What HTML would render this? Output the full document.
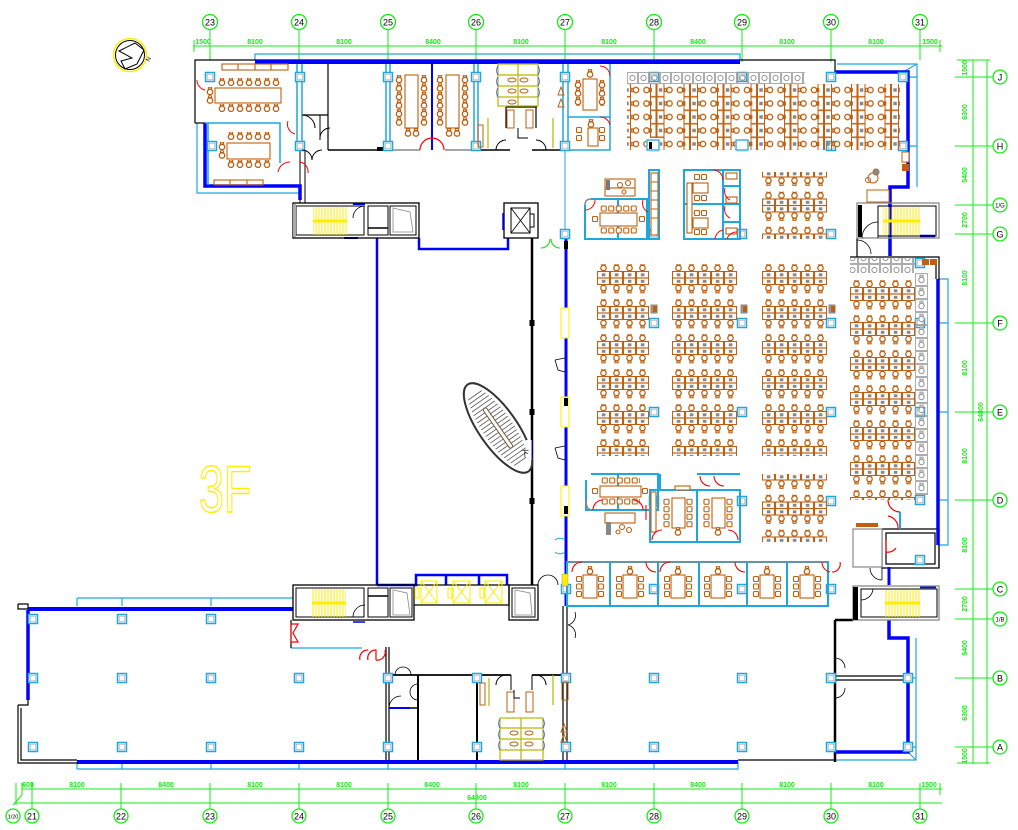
<!DOCTYPE html>
<html><head><meta charset="utf-8">
<style>
html,body{margin:0;padding:0;background:#fff;width:1018px;height:830px;overflow:hidden}
svg{display:block}
</style></head><body>
<svg xmlns="http://www.w3.org/2000/svg" width="1018" height="830" viewBox="0 0 1018 830" font-family="Liberation Sans, sans-serif">
<defs>
<g id="c"><rect x="-1.6" y="-4.3" width="3.2" height="1.8" fill="#fff" stroke="#bf5f0f" stroke-width="1.1"/><circle r="2.7" cy="0.5" fill="#fff" stroke="#bf5f0f" stroke-width="1.3"/></g>
<g id="cg"><rect x="-1.6" y="-4.3" width="3.2" height="1.8" fill="#fff" stroke="#999" stroke-width="1"/><circle r="2.7" cy="0.5" fill="#fff" stroke="#999" stroke-width="1.1"/></g>
<g id="sq"><rect x="-2.5" y="-2.5" width="5" height="5" rx="1" fill="#fff" stroke="#bf5f0f" stroke-width="1.1"/></g>
<g id="col"><rect x="-4.5" y="-4.5" width="9" height="9" fill="#fff" stroke="#1ea7df" stroke-width="1.5"/><rect x="-2.8" y="-2.8" width="5.6" height="5.6" fill="none" stroke="#aaa" stroke-width="0.7"/></g>
<pattern id="cl" width="13" height="35" patternUnits="userSpaceOnUse">
 <use href="#c" x="6.5" y="3.5"/>
 <rect x="0.5" y="7.5" width="12" height="6.5" fill="none" stroke="#bf5f0f" stroke-width="1.1"/>
 <rect x="0.5" y="14" width="12" height="6.5" fill="none" stroke="#bf5f0f" stroke-width="1.1"/>
 <rect x="4.8" y="9.3" width="3.6" height="3" fill="#888"/>
 <rect x="4.8" y="15.8" width="3.6" height="3" fill="#888"/>
 <use href="#c" transform="translate(6.5,24.5) rotate(180)"/>
</pattern>
<pattern id="tp" x="656.5" y="83.25" width="33.5" height="13.5" patternUnits="userSpaceOnUse">
 <rect x="0.5" y="0.25" width="7" height="13" fill="none" stroke="#bf5f0f" stroke-width="1"/>
 <rect x="2.3" y="5" width="3.5" height="3.5" fill="#888"/>
 <use href="#c" transform="translate(12.5,6.75) rotate(-90)"/>
 <use href="#c" transform="translate(24,6.75) rotate(90)"/>
 <rect x="27.5" y="0.25" width="5.5" height="13" fill="none" stroke="#bf5f0f" stroke-width="1"/>
</pattern>
<pattern id="gr" x="627" y="72" width="11" height="12" patternUnits="userSpaceOnUse">
 <rect x="0.5" y="0.5" width="10" height="11" fill="none" stroke="#999" stroke-width="0.8"/>
 <circle cx="5.5" cy="6" r="2.6" fill="none" stroke="#999" stroke-width="1"/>
</pattern>
<pattern id="gv" width="13" height="13" patternUnits="userSpaceOnUse">
 <rect x="0.5" y="0.5" width="12" height="12" fill="none" stroke="#999" stroke-width="0.8"/>
 <use href="#cg" x="6.5" y="6.5"/>
</pattern>
<pattern id="pch" width="9" height="8" patternUnits="userSpaceOnUse"><use href="#c" x="4.5" y="4.3"/></pattern>
<pattern id="pcv" width="8" height="8.5" patternUnits="userSpaceOnUse"><use href="#c" x="4" y="4.5"/></pattern>
<pattern id="psv" width="7" height="7.5" patternUnits="userSpaceOnUse"><use href="#sq" x="3.5" y="3.75"/></pattern>
<pattern id="psh" width="7.5" height="7" patternUnits="userSpaceOnUse"><use href="#sq" x="3.75" y="3.5"/></pattern>
<pattern id="st" width="3" height="40" patternUnits="userSpaceOnUse"><line x1="1" y1="0" x2="1" y2="40" stroke="#ffee00" stroke-width="1"/></pattern>
<g id="mr">
 <rect x="-7" y="0" width="14" height="23" fill="#fff" stroke="#bf5f0f" stroke-width="1.1"/>
 <use href="#c" x="0" y="-4"/>
 <use href="#sq" x="-11" y="4"/><use href="#sq" x="-11" y="11.5"/><use href="#sq" x="-11" y="19"/>
 <use href="#sq" x="11" y="4"/><use href="#sq" x="11" y="11.5"/><use href="#sq" x="11" y="19"/>
</g>
</defs>

<!-- ================= AXES ================= -->
<g stroke="#11ee11" stroke-width="1" fill="none">
 <path d="M193,46H942 M194,40V52 M940,40V52"/>
 <path d="M210,29V60 M299,29V62 M388,29V62 M476,29V62 M565,29V62 M654,29V62 M742,29V62 M831,29V62 M920,29V60"/>
 <path d="M957,60H990 M973,60V764 M987,60V764 M957,763H990"/>
 <path d="M955,77H993 M955,146H993 M955,205H993 M955,234H993 M955,323H993 M955,412H993 M955,500H993 M955,589H993 M955,619H993 M955,678H993 M955,747H993"/>
 <path d="M22,789H942 M16,803H942 M16,783V805 M22,783V795 M22,795L13,805"/>
 <path d="M32,783V809 M121,783V809 M210,783V809 M299,783V809 M388,783V809 M476,783V809 M565,783V809 M654,783V809 M742,783V809 M831,783V809 M920,783V809 M940,783V795"/>
 <g stroke-width="1.3">
 <circle cx="210" cy="22" r="7.5"/><circle cx="299" cy="22" r="7.5"/><circle cx="388" cy="22" r="7.5"/><circle cx="476" cy="22" r="7.5"/><circle cx="565" cy="22" r="7.5"/><circle cx="654" cy="22" r="7.5"/><circle cx="742" cy="22" r="7.5"/><circle cx="831" cy="22" r="7.5"/><circle cx="920" cy="22" r="7.5"/>
 <circle cx="1000" cy="77" r="7"/><circle cx="1000" cy="146" r="7"/><circle cx="1000" cy="205" r="7"/><circle cx="1000" cy="234" r="7"/><circle cx="1000" cy="323" r="7"/><circle cx="1000" cy="412" r="7"/><circle cx="1000" cy="500" r="7"/><circle cx="1000" cy="589" r="7"/><circle cx="1000" cy="619" r="7"/><circle cx="1000" cy="678" r="7"/><circle cx="1000" cy="747" r="7"/>
 <circle cx="13" cy="816" r="7"/><circle cx="32" cy="816" r="7"/><circle cx="121" cy="816" r="7"/><circle cx="210" cy="816" r="7"/><circle cx="299" cy="816" r="7"/><circle cx="388" cy="816" r="7"/><circle cx="476" cy="816" r="7"/><circle cx="565" cy="816" r="7"/><circle cx="654" cy="816" r="7"/><circle cx="742" cy="816" r="7"/><circle cx="831" cy="816" r="7"/><circle cx="920" cy="816" r="7"/>
 </g>
</g>
<g font-size="9" fill="#000" text-anchor="middle">
 <text x="210" y="25.5">23</text><text x="299" y="25.5">24</text><text x="388" y="25.5">25</text><text x="476" y="25.5">26</text><text x="565" y="25.5">27</text><text x="654" y="25.5">28</text><text x="742" y="25.5">29</text><text x="831" y="25.5">30</text><text x="920" y="25.5">31</text>
 <text x="32" y="819.5">21</text><text x="121" y="819.5">22</text><text x="210" y="819.5">23</text><text x="299" y="819.5">24</text><text x="388" y="819.5">25</text><text x="476" y="819.5">26</text><text x="565" y="819.5">27</text><text x="654" y="819.5">28</text><text x="742" y="819.5">29</text><text x="831" y="819.5">30</text><text x="920" y="819.5">31</text>
 <text x="1000" y="80.5">J</text><text x="1000" y="149.5">H</text><text x="1000" y="237.5">G</text><text x="1000" y="326.5">F</text><text x="1000" y="415.5">E</text><text x="1000" y="503.5">D</text><text x="1000" y="592.5">C</text><text x="1000" y="681.5">B</text><text x="1000" y="750.5">A</text>
 <text x="1000" y="207.5" font-size="6">1/G</text><text x="1000" y="621.5" font-size="6">1/B</text><text x="13" y="818.5" font-size="5.5">1/20</text>
</g>
<g font-size="7" font-weight="bold" fill="#11ee11" text-anchor="middle">
 <text x="203" y="44">1500</text><text x="255" y="44">8100</text><text x="344" y="44">8100</text><text x="433" y="44">8400</text><text x="521" y="44">8100</text><text x="609" y="44">8100</text><text x="698" y="44">8400</text><text x="787" y="44">8100</text><text x="876" y="44">8100</text><text x="930" y="44">1500</text>
 <text x="28" y="787">600</text><text x="77" y="787">8100</text><text x="166" y="787">8400</text><text x="255" y="787">8100</text><text x="344" y="787">8100</text><text x="432" y="787">8400</text><text x="521" y="787">8100</text><text x="609" y="787">8100</text><text x="698" y="787">8400</text><text x="787" y="787">8100</text><text x="876" y="787">8100</text><text x="929" y="787">1500</text>
 <text x="477" y="800">64800</text>
 <text transform="translate(967,68) rotate(-90)">1500</text>
 <text transform="translate(967,112) rotate(-90)">6300</text>
 <text transform="translate(967,175) rotate(-90)">5400</text>
 <text transform="translate(967,220) rotate(-90)">2700</text>
 <text transform="translate(967,278) rotate(-90)">8100</text>
 <text transform="translate(967,368) rotate(-90)">8100</text>
 <text transform="translate(983,412) rotate(-90)">64800</text>
 <text transform="translate(967,456) rotate(-90)">8100</text>
 <text transform="translate(967,545) rotate(-90)">8100</text>
 <text transform="translate(967,604) rotate(-90)">2700</text>
 <text transform="translate(967,648) rotate(-90)">5400</text>
 <text transform="translate(967,713) rotate(-90)">6300</text>
 <text transform="translate(967,756) rotate(-90)">1500</text>
</g>

<!-- compass -->
<g fill="none">
 <circle cx="130" cy="55" r="16.5" stroke="#ffee00" stroke-width="1.5"/>
 <circle cx="130" cy="55" r="14.5" stroke="#000" stroke-width="1"/>
 <path d="M119,51 L135,43 L144,50 L137,64 L125,69 L121,61 L132,58 Z" stroke="#000" stroke-width="1"/>
 <text x="0" y="0" transform="translate(149,62) rotate(-60)" font-size="6" fill="#000">N</text>
</g>

<!-- 3F -->
<text x="0" y="0" transform="translate(199,512) scale(0.68,1)" font-size="66" fill="none" stroke="#ffee00" stroke-width="1.4">3F</text>

<!-- ================= CYAN OUTER LINES ================= -->
<g stroke="#1ea7df" stroke-width="1.2" fill="none">
 <path d="M255,60V54H740V60"/>
 <path d="M837,64H917V187 M903,72L917,64 M908,77H917 M908,146H917"/>
 <path d="M197,123V193H300"/>
 <path d="M77,598H293 M77,598V606 M122,598V606 M211,598V606"/>
 <path d="M77,769H738V762 M77,762V769 M122,762V769 M211,762V769 M299,762V769 M388,762V769 M476,762V769 M565,762V769 M654,762V769"/>
 <path d="M836,760H916V638 M908,678H916 M908,747H916 M908,752L916,760"/>
 <path d="M938,279H948V545H938 M938,323H948 M938,412H948 M938,500H948"/>
 <path d="M565,150V238" stroke-width="1"/>
 <path d="M291,648H362"/>
</g>

<!-- ================= BLACK WALLS ================= -->
<g stroke="#000" stroke-width="1.2" fill="none">
 <path d="M195,123V60H835V72"/>
 <path d="M195,123H205"/>
 <path d="M328,64V150 M302,115H328"/>
 <path d="M328,150H383 M476,150H510 M532,150H560" stroke-width="1.5"/>
 <path d="M506,107H537 M506,107V128 M536,107V128"/>
 <path d="M532,238V585" stroke-width="2.5"/>
 <path d="M563,606V762 M567,606V762"/>
 <path d="M18,604H28V609 M18,604V609H28"/>
 <path d="M18,705V763H77 M18,705H28V700 M21,708V760H77"/>
 <path d="M738,760H835" />
 <path d="M835,620V762 M835,620H853" stroke-width="2.5"/>
 <path d="M836,676H908 M836,680H908"/>
 <path d="M386,647V762 M389,647V762"/>
 <path d="M387,675H511 M532,675H565" stroke-width="1.8"/>
 <path d="M418,675V762 M477,675V762" stroke-width="2"/>
 <path d="M389,708H418" stroke-width="1.5"/>
 <path d="M291,620V648"/>
 <path d="M857,238V257 M850,257H939V279 M936,260V279"/>
 <path d="M882,529H939V568H882Z M886,533H935V564H886Z"/>
 <path d="M939,545V568"/>
 <path d="M300,150V203 M305,150V203" stroke-width="1"/>
</g>
<g fill="#000">
 <rect x="529.5" y="320" width="5" height="6"/><rect x="529.5" y="409" width="5" height="6"/><rect x="529.5" y="498" width="5" height="6"/>
 <rect x="377" y="147" width="6" height="4"/>
</g>
<path d="M388,150H420 M445,150H476" stroke="#888" stroke-width="1.5" fill="none"/>
<rect x="853" y="529" width="29" height="38" fill="#fff" stroke="#888" stroke-width="1.2"/>
<path d="M585,205 Q585,199 591,199" stroke="#888" stroke-width="1.5" fill="none"/>

<!-- ================= BLUE WALLS ================= -->
<g stroke="#0000ff" fill="none">
 <path d="M255,62H740" stroke-width="4"/>
 <path d="M835,72H908V187H890V256" stroke-width="3.5"/>
 <path d="M205,123V186H300V200" stroke-width="3.5"/>
 <path d="M377,238V585 M419,238V249H508V238" stroke-width="2.5"/>
 <path d="M377,585H416V575H507V585 M446,575V585 M479,575V585" stroke-width="2.5"/>
 <path d="M566,238V606" stroke-width="3"/>
 <path d="M28,609H293" stroke-width="4"/>
 <path d="M28,610V700" stroke-width="3.5"/>
 <path d="M77,762H738" stroke-width="4"/>
 <path d="M889,620V638H908V752H835" stroke-width="3.5"/>
 <path d="M938,279V545" stroke-width="3.5"/>
 <path d="M889,567V585" stroke-width="3"/>
 <path d="M920,587H936 M920,236H935" stroke-width="2.5"/>
 <path d="M353,204H365 M344,238H358 M389,708H410" stroke-width="2"/>
 <path d="M432,64V150" stroke-width="2"/>
</g>
<!-- cyan room walls -->
<g stroke="#1ea7df" fill="none" stroke-width="1.5">
 <path d="M297,64V150 M302,64V150 M386,64V150 M390,64V150 M474,64V150 M478,64V150 M563,64V150 M568,64V150"/>
 <path d="M208,123V185 M205,123H280V163"/>
 <path d="M568,117H610V150H568 M610,64V150"/>
</g>

<!-- columns -->
<g>
 <use href="#col" x="210" y="77"/><use href="#col" x="300" y="77"/><use href="#col" x="388" y="77"/><use href="#col" x="476" y="77"/><use href="#col" x="565" y="77"/><use href="#col" x="654" y="77"/><use href="#col" x="742" y="77"/><use href="#col" x="831" y="77"/><use href="#col" x="903" y="77"/>
 <use href="#col" x="212" y="146"/><use href="#col" x="300" y="146"/><use href="#col" x="388" y="146"/><use href="#col" x="476" y="146"/><use href="#col" x="565" y="146"/><use href="#col" x="654" y="146"/><use href="#col" x="742" y="146"/><use href="#col" x="831" y="146"/><use href="#col" x="903" y="146"/>
 <use href="#col" x="565" y="234"/><use href="#col" x="654" y="234"/><use href="#col" x="742" y="234"/><use href="#col" x="831" y="234"/>
 <use href="#col" x="654" y="323"/><use href="#col" x="742" y="323"/><use href="#col" x="831" y="323"/><use href="#col" x="920" y="323"/>
 <use href="#col" x="654" y="412"/><use href="#col" x="742" y="412"/><use href="#col" x="831" y="412"/><use href="#col" x="920" y="412"/>
 <use href="#col" x="654" y="501"/><use href="#col" x="742" y="501"/><use href="#col" x="831" y="501"/><use href="#col" x="920" y="500"/>
 <use href="#col" x="566" y="589"/><use href="#col" x="654" y="589"/><use href="#col" x="742" y="589"/><use href="#col" x="831" y="589"/><use href="#col" x="920" y="560"/><use href="#col" x="920" y="263"/>
 <use href="#col" x="33" y="619"/><use href="#col" x="122" y="619"/><use href="#col" x="211" y="619"/>
 <use href="#col" x="33" y="678"/><use href="#col" x="122" y="678"/><use href="#col" x="211" y="678"/><use href="#col" x="299" y="678"/><use href="#col" x="388" y="678"/><use href="#col" x="477" y="678"/><use href="#col" x="566" y="678"/><use href="#col" x="654" y="678"/><use href="#col" x="742" y="678"/><use href="#col" x="831" y="678"/><use href="#col" x="908" y="678"/>
 <use href="#col" x="33" y="747"/><use href="#col" x="122" y="747"/><use href="#col" x="211" y="747"/><use href="#col" x="299" y="747"/><use href="#col" x="388" y="747"/><use href="#col" x="477" y="747"/><use href="#col" x="566" y="747"/><use href="#col" x="654" y="747"/><use href="#col" x="742" y="747"/><use href="#col" x="831" y="747"/><use href="#col" x="908" y="747"/>
</g>

<!-- ================= TOP-LEFT CONFERENCE ================= -->
<g stroke="#bf5f0f" fill="#fff" stroke-width="1.1">
 <rect x="222" y="64" width="66" height="6" fill="none"/>
 <path d="M238,64V70 M255,64V70 M271,64V70"/>
 <rect x="215" y="88" width="66" height="15"/>
 <rect x="214" y="180" width="49" height="5" fill="none"/>
 <path d="M230,180V185 M247,180V185"/>
 <rect x="227" y="143" width="43" height="16"/>
</g>
<rect transform="translate(217.5,78)" width="63" height="8" fill="url(#pch)"/>
<rect transform="translate(217.5,104)" width="63" height="8" fill="url(#pch)"/>
<rect transform="translate(206,87)" width="8" height="17" fill="url(#pcv)"/>
<rect transform="translate(226.5,132)" width="45" height="8" fill="url(#pch)"/>
<rect transform="translate(226.5,160)" width="45" height="8" fill="url(#pch)"/>
<rect transform="translate(218,142)" width="8" height="17" fill="url(#pcv)"/>

<!-- conference 25-26 -->
<g stroke="#bf5f0f" fill="#fff" stroke-width="1.1">
 <rect x="405" y="75" width="13" height="53"/>
 <rect x="446" y="75" width="13" height="53"/>
</g>
<rect transform="translate(395,75)" width="8" height="51" fill="url(#pcv)"/>
<rect transform="translate(420,75)" width="8" height="51" fill="url(#pcv)"/>
<rect transform="translate(436,75)" width="8" height="51" fill="url(#pcv)"/>
<rect transform="translate(461,75)" width="8" height="51" fill="url(#pcv)"/>
<use href="#c" x="408" y="133"/><use href="#c" x="416" y="133"/><use href="#c" x="449" y="133"/><use href="#c" x="457" y="133"/>
<path d="M420,150 A12,12 0 0,1 432,138 M444,150 A12,12 0 0,0 432,138" stroke="#f00" fill="none" stroke-width="1.2"/>

<!-- room 24 box -->
<g stroke="#000" fill="none" stroke-width="1">
 <path d="M302,115 A13,13 0 0,1 315,128 M320,115V140 M302,150 A10,10 0 0,1 312,160 M322,150 A10,10 0 0,0 312,160 M330,128 A10,10 0 0,0 320,138"/>
</g>
<path d="M288,121 A10,10 0 0,0 295,134 M278,172 A12,12 0 0,1 290,162 M300,162 A10,10 0 0,1 308,173 M197,80 A10,10 0 0,0 205,90" stroke="#f00" fill="none" stroke-width="1"/>

<!-- restrooms top -->
<g stroke="#b8b800" fill="none" stroke-width="1.2">
 <rect x="498" y="64" width="40" height="42"/>
 <path d="M498,75H538 M498,86H538 M498,97H538 M518,64V106"/>
 <path d="M488,118V148 M553,118V148"/>
</g>
<g stroke="#3355ff" fill="none" stroke-width="0.9">
 <path d="M498,66 A8,8 0 0,0 498,75 M498,77 A8,8 0 0,0 498,86 M498,88 A8,8 0 0,0 498,97 M538,66 A8,8 0 0,1 538,75 M538,77 A8,8 0 0,1 538,86 M538,88 A8,8 0 0,1 538,97"/>
</g>
<g fill="none" stroke="#bf5f0f" stroke-width="1">
 <ellipse cx="512" cy="80" rx="4" ry="2"/><ellipse cx="524" cy="80" rx="4" ry="2"/><ellipse cx="512" cy="91" rx="4" ry="2"/><ellipse cx="524" cy="91" rx="4" ry="2"/><ellipse cx="512" cy="102" rx="4" ry="2"/>
 <rect x="507" y="110" width="7" height="18"/><rect x="526" y="110" width="7" height="18"/>
 <rect x="478" y="125" width="5" height="22"/>
 <path d="M558,95 l3,-8 l3,8z M558,107 l3,-8 l3,8z"/>
</g>
<path d="M496,150 A10,10 0 0,1 506,140 M546,150 A10,10 0 0,0 536,140 M518,128V138H528" stroke="#000" fill="none" stroke-width="1"/>

<!-- top-right small conference -->
<g stroke="#bf5f0f" fill="#fff" stroke-width="1.1">
 <rect x="583" y="79" width="14" height="31"/>
 <rect x="588" y="128" width="10" height="18"/>
</g>
<use href="#c" x="590" y="74"/>
<rect transform="translate(574,80)" width="8" height="26" fill="url(#pcv)"/>
<rect transform="translate(598,80)" width="8" height="26" fill="url(#pcv)"/>
<use href="#sq" x="579" y="130"/><use href="#sq" x="579" y="138"/><use href="#sq" x="602" y="130"/><use href="#sq" x="602" y="138"/><use href="#c" x="591" y="124"/>
<path d="M600,66 A10,10 0 0,1 610,76 M600,117 A10,10 0 0,1 610,125" stroke="#f00" fill="none"/>

<!-- top-right big office -->
<rect x="627" y="72" width="178" height="12" fill="url(#gr)"/>
<rect x="627" y="84" width="273" height="66" fill="url(#tp)"/>
<g fill="#fff" stroke="none">
 <rect x="646" y="138" width="14" height="13"/><rect x="735" y="138" width="14" height="13"/>
</g>
<rect x="647" y="140" width="12" height="10" fill="none" stroke="#1ea7df" stroke-width="1.3"/>
<rect x="649" y="142" width="3" height="7" fill="#000"/>
<rect x="736" y="140" width="12" height="10" fill="none" stroke="#1ea7df" stroke-width="1.3"/>
<rect x="902" y="152" width="7" height="10" fill="#fff" stroke="#bf5f0f"/>
<rect x="902" y="164" width="7" height="7" fill="#bf5f0f"/>
<g fill="none" stroke="#bf5f0f" stroke-width="1">
 <circle cx="873" cy="178" r="5"/><circle cx="868" cy="180" r="2.5"/><circle cx="876" cy="172" r="3"/>
 <rect x="867" y="190" width="22" height="12" fill="#fff"/>
</g>
<circle cx="876" cy="172" r="3" fill="#888"/>

<!-- ================= MIDDLE TOP GROUPS ================= -->
<g stroke="#1ea7df" fill="none" stroke-width="2">
 <path d="M591,199H647V239H585V205 M618,199V239"/>
 <rect x="649" y="170" width="10" height="69"/>
 <path d="M684,170H740V239H684Z M723,170V239 M684,204H723 M723,186H740 M723,204H740 M723,222H740"/>
</g>
<g stroke="#bf5f0f" fill="#fff" stroke-width="1.1">
 <rect x="605" y="179" width="30" height="9"/><rect x="605" y="188" width="30" height="8"/>
 <rect x="600" y="213" width="37" height="13"/>
 <rect x="651" y="173" width="7" height="62"/>
 <path d="M651,182H658 M651,191H658 M651,200H658 M651,209H658 M651,218H658"/>
 <rect x="687" y="183" width="5" height="50"/>
 <rect x="693" y="183" width="15" height="10"/><rect x="693" y="218" width="15" height="10"/>
 <rect x="726" y="173" width="11" height="6"/><rect x="726" y="197" width="11" height="6"/><rect x="726" y="228" width="11" height="6"/>
 <circle cx="620" cy="185" r="2.5"/><circle cx="628" cy="183" r="2.5"/><circle cx="624" cy="192" r="2"/>
</g>
<rect x="606" y="180" width="4" height="10" fill="#777"/>
<rect transform="translate(600,205)" width="37" height="7" fill="url(#psh)"/>
<rect transform="translate(600,227)" width="37" height="7" fill="url(#psh)"/>
<use href="#sq" x="595" y="219"/><use href="#sq" x="642" y="219"/>
<use href="#sq" x="697" y="177"/><use href="#sq" x="704" y="177"/><use href="#sq" x="697" y="198"/><use href="#sq" x="704" y="198"/>
<use href="#sq" x="697" y="213"/><use href="#sq" x="704" y="213"/><use href="#sq" x="697" y="232"/><use href="#sq" x="704" y="232"/>
<path d="M585,210 A10,10 0 0,0 595,200 M643,200 A10,10 0 0,0 648,212 M714,170 A10,10 0 0,1 723,180 M725,188 A10,10 0 0,0 730,200 M725,206 A10,10 0 0,0 730,218 M715,239 A10,10 0 0,1 723,230 M727,239 A10,10 0 0,1 737,232" stroke="#f00" fill="none" stroke-width="1"/>
<path d="M541,248 A9,9 0 0,0 550,239 M560,248 A9,9 0 0,1 551,239" stroke="#11dd11" fill="none" stroke-width="1"/>

<!-- group 3 desks -->
<rect transform="translate(762,156.5)" y="15.5" width="65" height="67" fill="url(#cl)"/>

<!-- right stair top -->
<g fill="none">
 <rect x="857" y="203" width="82" height="35" stroke="#888" stroke-width="1.3"/>
 <rect x="878" y="206" width="58" height="30" stroke="#000" stroke-width="1"/>
 <rect x="858" y="205" width="4" height="32" fill="#000"/>
 <rect x="883" y="207" width="37" height="28" fill="url(#st)"/>
 <path d="M883,221H920" stroke="#ffee00" stroke-width="3"/>
 <path d="M862,238 A16,16 0 0,1 878,222 M878,222V238" stroke="#000" stroke-width="0.8"/>
 <path d="M857,240 A14,14 0 0,1 871,254" stroke="#000" stroke-width="0.8"/>
</g>

<!-- ================= MAIN DESK CLUSTERS ================= -->
<rect transform="translate(597,264)" width="52" height="192" fill="url(#cl)"/>
<rect transform="translate(672,264)" width="65" height="192" fill="url(#cl)"/>
<rect transform="translate(762,264)" width="65" height="192" fill="url(#cl)"/>
<rect transform="translate(850,280)" width="65" height="220" fill="url(#cl)"/>
<rect x="850" y="258" width="65" height="15" fill="url(#gr)"/>
<rect transform="translate(915,273)" width="13" height="222" fill="url(#gv)"/>
<rect x="922" y="259" width="7" height="6" fill="#bf5f0f"/><rect x="930" y="259" width="7" height="6" fill="#bf5f0f"/>
<g fill="#999" stroke="#888"><rect x="651" y="305" width="6" height="8"/><rect x="741" y="305" width="6" height="8"/><rect x="829" y="305" width="6" height="8"/></g>
<rect x="653" y="306" width="4" height="6" fill="#bf5f0f"/><rect x="743" y="306" width="4" height="6" fill="#bf5f0f"/><rect x="831" y="306" width="4" height="6" fill="#bf5f0f"/>

<!-- lower desk cluster col C -->
<rect transform="translate(762,459.5)" y="14.5" width="65" height="68" fill="url(#cl)"/>

<!-- lower left meeting rooms -->
<g stroke="#1ea7df" fill="none" stroke-width="2">
 <path d="M591,474H658V510H586V480 M618,474V510"/>
 <path d="M650,490H740V542H650Z M697,490V542 M697,474H740 M660,474V490"/>
</g>
<path d="M586,500 Q586,510 592,510" stroke="#888" fill="none" stroke-width="1.5"/>
<g stroke="#bf5f0f" fill="#fff" stroke-width="1.1">
 <rect x="600" y="486" width="41" height="11"/>
 <rect x="605" y="513" width="30" height="10"/>
 <rect x="672" y="498" width="13" height="30"/>
 <rect x="712" y="498" width="13" height="30"/>
 <rect x="651" y="492" width="5" height="40"/>
 <rect x="675" y="486" width="15" height="4"/>
 <circle cx="622" cy="527" r="2.5"/><circle cx="629" cy="530" r="2.5"/><circle cx="618" cy="532" r="2"/>
</g>
<rect x="606" y="522" width="5" height="13" fill="#888"/>
<rect transform="translate(601,477)" width="39" height="7" fill="url(#psh)"/>
<rect transform="translate(601,498)" width="39" height="7" fill="url(#psh)"/>
<use href="#sq" x="595" y="491"/><use href="#sq" x="645" y="491"/>
<rect transform="translate(663,498)" width="7" height="30" fill="url(#psv)"/>
<rect transform="translate(686,498)" width="7" height="30" fill="url(#psv)"/>
<rect transform="translate(703,498)" width="7" height="30" fill="url(#psv)"/>
<rect transform="translate(726,498)" width="7" height="30" fill="url(#psv)"/>
<use href="#c" x="678" y="532"/><use href="#c" x="718" y="532"/>
<path d="M593,510 A10,10 0 0,1 603,500 M633,500 A10,10 0 0,1 643,510 M652,540 A10,10 0 0,1 662,530 M728,530 A10,10 0 0,1 738,540 M700,476 A10,10 0 0,0 710,486 M714,476 A10,10 0 0,0 724,486 M646,505 V520" stroke="#f00" fill="none" stroke-width="1.1"/>

<!-- right lower small rooms -->
<rect x="856" y="523" width="22" height="4" fill="#bf5f0f"/>
<path d="M888,500 A12,12 0 0,0 900,512 M888,516 A12,12 0 0,1 898,529 M886,540 V552 A10,10 0 0,0 896,548" stroke="#f00" fill="none" stroke-width="1.2"/>
<path d="M900,512V529" stroke="#1ea7df" stroke-width="2"/>
<path d="M870,568 A12,12 0 0,0 882,580 M882,568V580" stroke="#000" fill="none" stroke-width="0.8"/>

<!-- ================= MEETING ROW ================= -->
<g stroke="#1ea7df" fill="none" stroke-width="2">
 <path d="M567,562H828V606H567Z M610,562V606 M658,562V606 M699,562V606 M747,562V606 M787,562V606"/>
</g>
<path d="M568,562H828" stroke="#888" stroke-width="1.3"/>
<use href="#mr" x="590" y="575"/><use href="#mr" x="630" y="575"/><use href="#mr" x="678" y="575"/><use href="#mr" x="718" y="575"/><use href="#mr" x="767" y="575"/><use href="#mr" x="807" y="575"/>
<g fill="none" stroke="#f00" stroke-width="1.1">
 <path d="M572,572 A10,10 0 0,1 582,562 M646,562 A10,10 0 0,0 656,572 M660,572 A10,10 0 0,1 670,562 M735,562 A10,10 0 0,0 745,572 M822,562 A10,10 0 0,0 830,572 M832,572 A8,8 0 0,0 840,562"/>
</g>
<rect x="562" y="574" width="6" height="12" fill="#ffee00" stroke="#999" stroke-width="0.5"/>

<!-- right lower stair -->
<g fill="none">
 <rect x="853" y="586" width="86" height="34" stroke="#888" stroke-width="1.3"/>
 <rect x="861" y="589" width="76" height="28" stroke="#000" stroke-width="1"/>
 <rect x="853" y="587" width="5" height="33" fill="#000"/>
 <rect x="885" y="590" width="35" height="27" fill="url(#st)"/>
 <path d="M885,603H920" stroke="#ffee00" stroke-width="3"/>
 <path d="M861,600 A12,12 0 0,0 873,589" stroke="#000" stroke-width="0.8"/>
</g>
<path d="M835,658 A10,10 0 0,1 845,668 M835,698 A10,10 0 0,0 845,688" stroke="#000" fill="none" stroke-width="0.8"/>

<!-- ================= ATRIUM / CORES ================= -->
<!-- top-left stair -->
<g fill="none">
 <rect x="293" y="203" width="126" height="35" stroke="#000" stroke-width="1.3"/>
 <rect x="296" y="206" width="68" height="29" stroke="#000" stroke-width="1"/>
 <rect x="293" y="204" width="3" height="33" fill="#aaa"/>
 <rect x="313" y="207" width="34" height="28" fill="url(#st)"/>
 <path d="M313,221H347" stroke="#ffee00" stroke-width="3"/>
 <rect x="368" y="206" width="20" height="29" stroke="#000"/>
 <path d="M368,228H388" stroke="#000" stroke-width="1.5"/>
 <rect x="390" y="206" width="26" height="29" stroke="#000"/>
 <path d="M393,208 L410,212 L413,232 H393 Z" stroke="#888" stroke-width="0.8"/>
 <path d="M353,218 A12,12 0 0,1 365,206" stroke="#000" stroke-width="0.8"/>
</g>
<!-- top elevator -->
<g fill="none" stroke="#000">
 <rect x="504" y="203" width="34" height="35" stroke-width="1.3"/>
 <rect x="511" y="208" width="19" height="25"/>
 <path d="M511,208 L530,233 M530,208 L511,233" stroke-width="0.8"/>
 <rect x="530" y="214" width="4" height="13"/>
 <path d="M503,213V230" stroke="#0000ff" stroke-width="1.5"/>
</g>
<!-- ellipse stair -->
<g transform="translate(498,428) rotate(55)">
 <ellipse rx="53" ry="19" fill="#fff" stroke="#333" stroke-width="2"/>
 <clipPath id="ec"><ellipse rx="48" ry="15"/></clipPath>
 <g clip-path="url(#ec)" stroke="#555" stroke-width="0.8">
  <path d="M-40,-20V20 M-36,-20V20 M-32,-20V20 M-28,-20V20 M-24,-20V20 M-20,-20V20 M-16,-20V20 M-12,-20V20 M-8,-20V20 M-4,-20V20 M0,-20V20 M4,-20V20 M8,-20V20 M12,-20V20 M16,-20V20 M20,-20V20 M24,-20V20 M28,-20V20 M32,-20V20 M36,-20V20 M40,-20V20"/>
 </g>
 <rect x="-24" y="-2" width="48" height="4" rx="2" fill="#fff" stroke="#6b5a3a" stroke-width="1"/>
</g>
<rect x="526" y="440" width="6" height="20" fill="#fff"/>
<path d="M532,440 V460" stroke="#0000ff" stroke-width="1"/>
<text x="525" y="456" font-size="8" text-anchor="middle" fill="#000">下</text>

<!-- windows / features along x=565 -->
<g fill="#fff" stroke="#ffee00" stroke-width="1">
 <rect x="561" y="308" width="8" height="30"/><rect x="561" y="397" width="8" height="30"/><rect x="561" y="486" width="8" height="30"/>
</g>
<g fill="#000"><rect x="564" y="398" width="4" height="8"/><rect x="564" y="506" width="4" height="8"/><rect x="564" y="241" width="4" height="8"/></g>
<path d="M555,360 L565,358 M555,360 L558,370 L565,372 M555,448 L565,446 M555,448 L558,458 L565,460" stroke="#000" fill="none" stroke-width="0.8"/>
<path d="M555,540 A8,8 0 0,1 565,540 M555,552 A8,8 0 0,0 565,552" stroke="#1ea7df" fill="none" stroke-width="1"/>

<!-- bottom stair / elevators -->
<g fill="none">
 <rect x="293" y="585" width="121" height="35" stroke="#000" stroke-width="1.3"/>
 <rect x="296" y="588" width="68" height="29" stroke="#000" stroke-width="1"/>
 <rect x="312" y="589" width="34" height="28" fill="url(#st)"/>
 <path d="M312,603H346" stroke="#ffee00" stroke-width="3"/>
 <rect x="368" y="588" width="20" height="29" stroke="#000"/>
 <path d="M368,596H388" stroke="#000" stroke-width="1.5"/>
 <rect x="390" y="588" width="22" height="29" stroke="#000"/>
 <path d="M393,590 L407,593 L410,615 H393 Z" stroke="#888" stroke-width="0.8"/>
 <path d="M353,617 A12,12 0 0,1 365,605" stroke="#000" stroke-width="0.8"/>
 <path d="M353,622H365" stroke="#0000ff" stroke-width="1.5"/>
 <path d="M414,585H509V605H414" stroke="#000" stroke-width="1.3"/>
 <rect x="509" y="585" width="29" height="35" stroke="#000" stroke-width="1.3"/>
 <rect x="512" y="588" width="23" height="29" stroke="#000"/>
 <path d="M515,590 L530,593 L532,615 H515 Z" stroke="#888" stroke-width="0.8"/>
</g>
<g fill="none" stroke="#ffee00" stroke-width="1">
 <rect x="421" y="581" width="16" height="22"/><path d="M421,581L437,603M437,581L421,603"/>
 <rect x="453" y="581" width="17" height="22"/><path d="M453,581L470,603M470,581L453,603"/>
 <rect x="485" y="581" width="17" height="22"/><path d="M485,581L502,603M502,581L485,603"/>
 <rect x="415" y="588" width="4" height="10"/><rect x="448" y="588" width="4" height="10"/><rect x="480" y="588" width="4" height="10"/>
</g>
<path d="M538,585 A10,10 0 0,1 548,575 M558,585 A10,10 0 0,0 548,575 M568,625 A10,10 0 0,0 575,612 M568,625 A10,10 0 0,1 575,638" stroke="#000" fill="none" stroke-width="0.8"/>
<g fill="none" stroke="#f00" stroke-width="1.2">
 <path d="M291,624 H298 L293,633 L298,642 H291 Z"/>
 <path d="M360,660 A8,8 0 0,1 368,650 M368,660 A8,8 0 0,1 376,650 V660 M376,660 A8,8 0 0,0 385,650"/>
</g>

<!-- lower mid rooms / restroom -->
<path d="M395,675 A8,8 0 0,1 403,667 M411,675 A8,8 0 0,0 403,667 M389,708 A12,12 0 0,1 401,696 M418,700 A8,8 0 0,1 410,692 M418,684 A8,8 0 0,0 410,692" stroke="#000" fill="none" stroke-width="0.8"/>
<g stroke="#b8b800" fill="none" stroke-width="1.2">
 <rect x="500" y="718" width="43" height="42"/>
 <path d="M500,728H543 M500,739H543 M500,750H543 M521,718V760"/>
 <path d="M489,678V706 M553,675V705"/>
</g>
<g stroke="#3355ff" fill="none" stroke-width="0.9">
 <path d="M500,719 A8,8 0 0,0 500,728 M500,730 A8,8 0 0,0 500,739 M500,741 A8,8 0 0,0 500,750 M543,719 A8,8 0 0,1 543,728 M543,730 A8,8 0 0,1 543,739 M543,741 A8,8 0 0,1 543,750"/>
</g>
<g fill="none" stroke="#bf5f0f" stroke-width="1">
 <ellipse cx="514" cy="733" rx="4" ry="2"/><ellipse cx="529" cy="733" rx="4" ry="2"/><ellipse cx="514" cy="744" rx="4" ry="2"/><ellipse cx="529" cy="744" rx="4" ry="2"/>
 <rect x="507" y="692" width="7" height="20"/><rect x="526" y="692" width="7" height="20"/>
 <rect x="480" y="683" width="5" height="22"/>
 <rect x="562" y="682" width="6" height="18"/>
 <path d="M561,732 l3,-8 l3,8z M561,742 l3,-8 l3,8z"/>
</g>
<path d="M511,675V690 M532,675V690 M514,690V698H520 M536,675 A10,10 0 0,1 546,685 M506,675 A10,10 0 0,0 496,685" stroke="#000" fill="none" stroke-width="1"/>
</svg>
</body></html>
